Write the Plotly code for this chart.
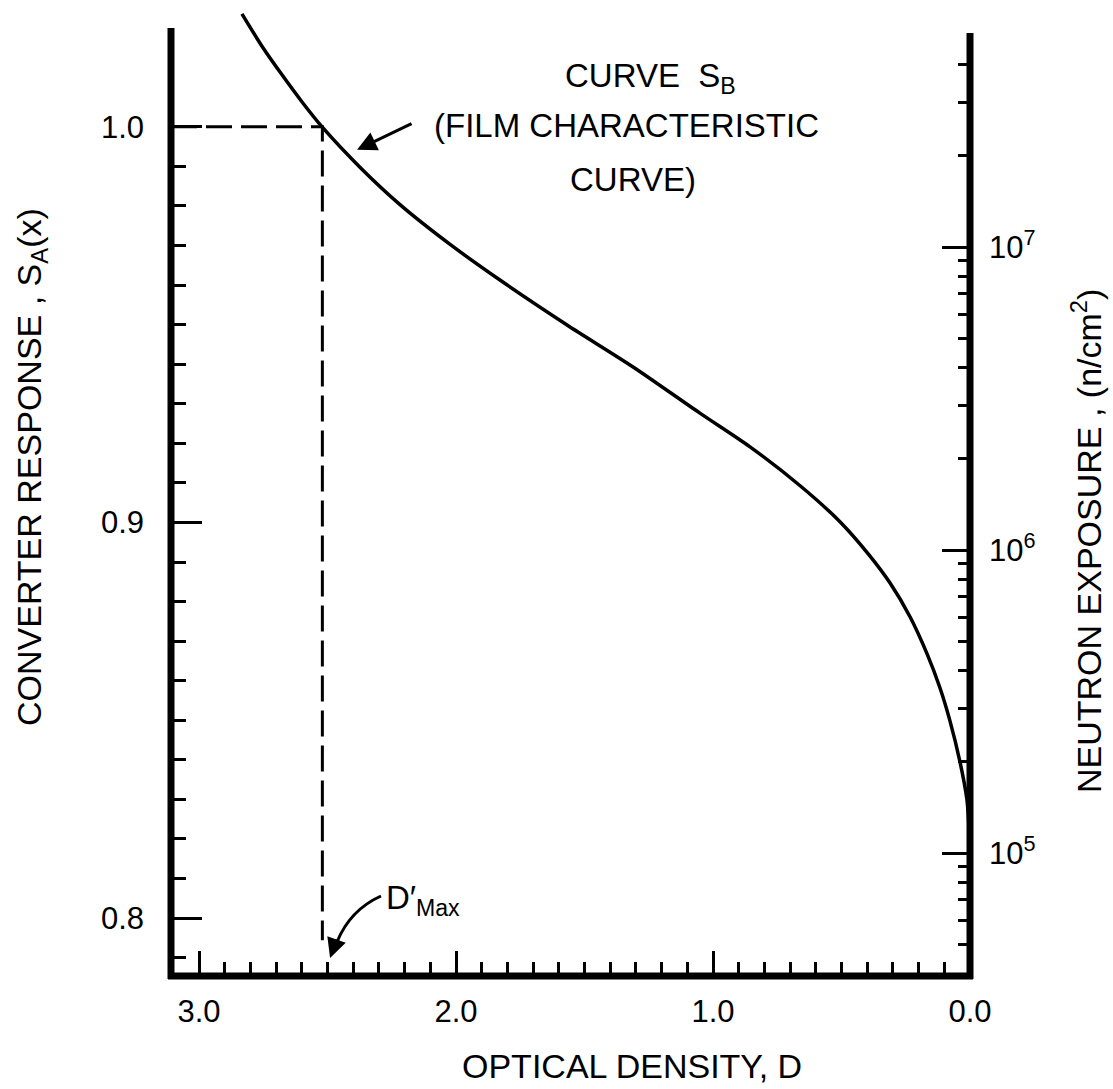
import plotly.graph_objects as go

# Film characteristic curve S_B: optical density D against neutron exposure (n/cm^2)
density = [2.833, 2.755, 2.677, 2.599, 2.521, 2.370, 2.218, 2.023, 1.829, 1.568,
           1.311, 1.051, 0.856, 0.661, 0.506, 0.389, 0.311, 0.233, 0.167, 0.117,
           0.078, 0.039, 0.012, 0.0]
exposure = [5.88e7, 4.60e7, 3.70e7, 3.01e7, 2.49e7, 1.82e7, 1.38e7, 1.02e7, 7.78e6, 5.53e6,
            4.02e6, 2.83e6, 2.19e6, 1.63e6, 1.24e6, 9.55e5, 7.78e5, 6.01e5, 4.54e5, 3.51e5,
            2.73e5, 2.00e5, 1.50e5, 1.03e5]

# Maximum usable density where the converter response reaches 1.0
d_max = 2.52
response_level = 1.0
response_floor = 0.7944

# Axis ticks
density_major = [0.0, 1.0, 2.0, 3.0]
density_labels = ["0.0", "1.0", "2.0", "3.0"]
density_minor = [round(0.1 * i, 1) for i in range(1, 30) if i % 10]

response_major = [0.8, 0.9, 1.0]
response_labels = ["0.8", "0.9", "1.0"]
response_minor = [round(0.79 + 0.01 * i, 2) for i in range(21) if i not in (1, 11)]

exposure_major = [1e5, 1e6, 1e7]
exposure_labels = ["10<sup>5</sup>", "10<sup>6</sup>", "10<sup>7</sup>"]
exposure_minor = ([k * 1e4 for k in range(5, 10)] + [k * 1e5 for k in range(2, 10)]
                  + [k * 1e6 for k in range(2, 10)] + [k * 1e7 for k in range(2, 5)])

# Plot frame geometry (pixels)
W, H = 1113, 1089
L, R, T, B = 171, 970, 8, 976

x_range = [3.109, 0.0]
y_range = [0.78535, 1.03005]
y2_range = [4.5941, 7.7888]


def px_x(p):
    return (p - L) / (R - L)


def px_y(p):
    return (B - p) / (B - T)


FONT = "Liberation Sans, Arial, sans-serif"
INK = "black"

fig = go.Figure()

fig.add_trace(go.Scatter(
    x=density, y=exposure, yaxis="y2", mode="lines",
    line=dict(color=INK, width=3.5, shape="spline", smoothing=0.8),
    hoverinfo="skip", showlegend=False))

fig.add_trace(go.Scatter(
    x=[x_range[0], d_max, d_max], y=[response_level, response_level, response_floor],
    mode="lines", line=dict(color=INK, width=3, dash="26px,9px"),
    hoverinfo="skip", showlegend=False))

tick_font = dict(family=FONT, size=31, color=INK)

fig.update_layout(
    width=W, height=H,
    margin=dict(l=L, r=W - R, t=T, b=H - B, autoexpand=False),
    paper_bgcolor="white", plot_bgcolor="white",
    showlegend=False,
    xaxis=dict(
        range=x_range, showgrid=False, zeroline=False, showline=False,
        tickmode="array", tickvals=density_major, ticktext=density_labels,
        ticks="inside", ticklen=25, tickwidth=3, tickcolor=INK,
        tickfont=tick_font, ticklabelstandoff=14,
        minor=dict(tickmode="array", tickvals=density_minor, ticks="inside",
                   ticklen=14, tickwidth=3, tickcolor=INK, showgrid=False),
    ),
    yaxis=dict(
        range=y_range, showgrid=False, zeroline=False, showline=False,
        tickmode="array", tickvals=response_major, ticktext=response_labels,
        ticks="inside", ticklen=31, tickwidth=3, tickcolor=INK,
        tickfont=tick_font, ticklabelstandoff=26,
        minor=dict(tickmode="array", tickvals=response_minor, ticks="inside",
                   ticklen=15, tickwidth=3, tickcolor=INK, showgrid=False),
    ),
    yaxis2=dict(
        type="log", range=y2_range, overlaying="y", side="right", anchor="x",
        showgrid=False, zeroline=False, showline=False,
        tickmode="array", tickvals=exposure_major, ticktext=exposure_labels,
        ticks="inside", ticklen=28, tickwidth=3, tickcolor=INK,
        tickfont=tick_font, ticklabelstandoff=18,
        minor=dict(tickmode="array", tickvals=exposure_minor, ticks="inside",
                   ticklen=12, tickwidth=3, tickcolor=INK, showgrid=False),
    ),
)

# Heavy axis frame: left, right and bottom edges
frame = dict(type="line", xref="paper", yref="paper", layer="above",
             line=dict(color=INK, width=7))
fig.add_shape(**frame, x0=0, x1=0, y0=px_y(B + 3), y1=px_y(28))
fig.add_shape(**frame, x0=1, x1=1, y0=px_y(B + 3), y1=px_y(33))
fig.add_shape(**frame, x0=px_x(L - 3), x1=px_x(R + 3), y0=0, y1=0)

# Curved leader for the D'max label
fig.add_shape(type="path", xref="paper", yref="paper", layer="above",
              path=(f"M {px_x(381)},{px_y(896)} Q {px_x(350)},{px_y(910)} "
                    f"{px_x(337)},{px_y(942)}"),
              line=dict(color=INK, width=3))

text_font = dict(family=FONT, size=33, color=INK)


def label(text, xp, yp, **kw):
    opts = dict(xanchor="center", yanchor="middle", font=text_font)
    opts.update(kw)
    fig.add_annotation(text=text, x=px_x(xp), y=px_y(yp), xref="paper", yref="paper",
                       showarrow=False, **opts)


label("CURVE\u00a0\u00a0S<sub>B</sub>", 650, 78)
label("(FILM CHARACTERISTIC", 626, 125)
label("CURVE)", 633, 180)
label("D\u2032<sub>Max</sub>", 384, 900, xanchor="left")

label("OPTICAL DENSITY, D", 632, 1066, font=dict(family=FONT, size=34, color=INK))
label("CONVERTER RESPONSE , S<sub>A</sub>(x)", 31, 467, textangle=-90,
      font=dict(family=FONT, size=34, color=INK))
label("NEUTRON EXPOSURE , (n/cm<sup>2</sup>)", 1086, 541, textangle=-90,
      font=dict(family=FONT, size=34, color=INK))

# Arrowheads pointing at the curve and at D'max
arrow = dict(text="", showarrow=True, arrowhead=2, arrowsize=1.3, arrowwidth=3,
             arrowcolor=INK, xref="x", yref="y", standoff=0)
fig.add_annotation(**arrow, x=2.385, y=0.9942, ax=56, ay=-27)
fig.add_annotation(**arrow, x=2.49, y=0.7899, ax=7, ay=-20)

fig.write_html("out.html")
